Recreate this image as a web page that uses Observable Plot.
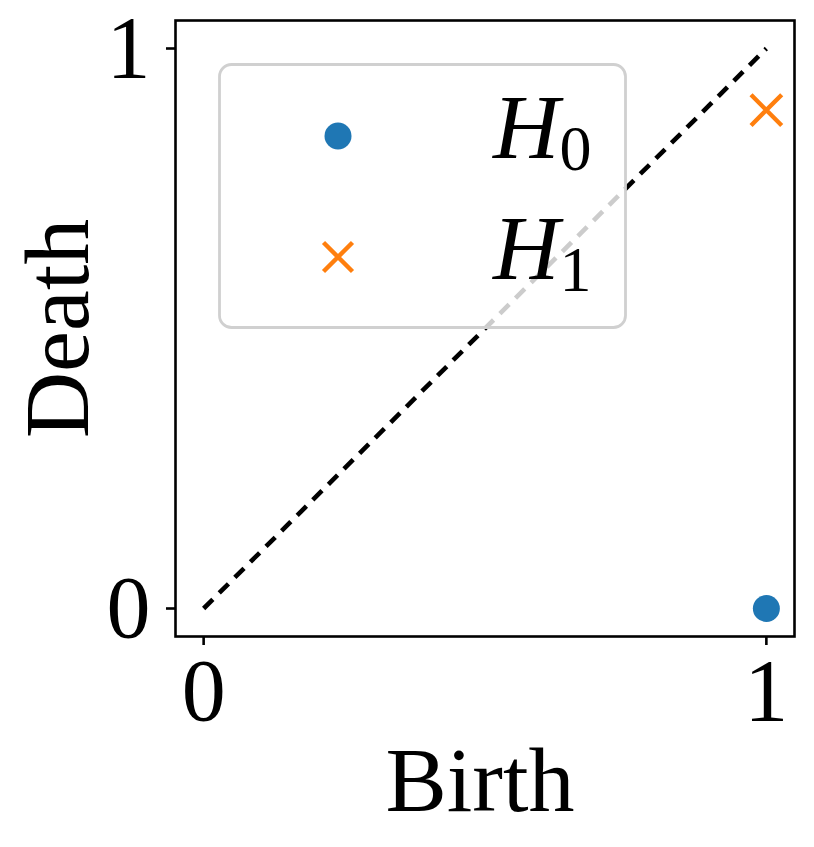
<!DOCTYPE html>
<html>
<head>
<meta charset="utf-8">
<script src="https://cdn.jsdelivr.net/npm/d3@7"></script>
<script src="https://cdn.jsdelivr.net/npm/@observablehq/plot@0.6"></script>
<style>
  html, body { margin: 0; padding: 0; background: white; }
  #chart { width: 814px; height: 847px; }
</style>
</head>
<body>
<div id="chart"></div>
<script>
// ---- data ----
const h0Birth = [1.0];
const h0Death = [0.0];
const h1Birth = [1.0];
const h1Death = [0.89];
const diagonal = [0, 1];
const xTicks = [0, 1];
const yTicks = [0, 1];
const seriesNames = ["H", "H"];
const seriesSubs = ["0", "1"];
const seriesColors = ["#1f77b4", "#ff7f0e"];
const xLabel = "Birth";
const yLabel = "Death";

const FONT = "Liberation Serif, Times New Roman, serif";
const FS = 88;

const h0 = h0Birth.map((b, i) => ({birth: b, death: h0Death[i]}));
const h1 = h1Birth.map((b, i) => ({birth: b, death: h1Death[i]}));
const diag = diagonal.map(v => ({birth: v, death: v}));

const chart = Plot.plot({
  width: 814,
  height: 847,
  marginLeft: 175,
  marginRight: 20,
  marginTop: 20,
  marginBottom: 211,
  style: {fontFamily: FONT, background: "white", color: "black"},
  x: {domain: [-0.05, 1.05]},
  y: {domain: [-0.05, 1.05]},
  marks: [
    Plot.line(diag, {x: "birth", y: "death", stroke: "black", strokeWidth: 4.6, strokeLinecap: "butt", strokeDasharray: "13,9"}),
    Plot.dot(h0, {x: "birth", y: "death", r: 13.5, fill: seriesColors[0], symbol: "circle"}),
    Plot.dot(h1, {x: "birth", y: "death", r: 14, stroke: seriesColors[1], strokeWidth: 4.4, strokeLinecap: "butt", symbol: "times"}),
    Plot.frame({stroke: "black", strokeWidth: 2.6}),
    Plot.axisX({ticks: xTicks, tickSize: 9, tickPadding: 12, strokeWidth: 2.6, fontSize: FS, fontFamily: FONT, label: null, tickFormat: d => String(d)}),
    Plot.axisY({ticks: yTicks, tickSize: 9, tickPadding: 16, strokeWidth: 2.6, fontSize: FS, fontFamily: FONT, label: null, tickFormat: d => String(d)}),
    Plot.text([xLabel], {frameAnchor: "bottom", dx: -5, dy: 174, lineAnchor: "bottom", textAnchor: "middle", text: d => d, fontSize: FS + 4, fontFamily: FONT, fill: "black"}),
    Plot.text([yLabel], {frameAnchor: "left", dx: -88, rotate: -90, lineAnchor: "bottom", textAnchor: "middle", text: d => d, fontSize: FS + 4, fontFamily: FONT, fill: "black"})
  ]
});

document.getElementById("chart").appendChild(chart);

// ---- legend (drawn on top, semi-transparent like matplotlib) ----
const svg = d3.select(chart);
const lg = svg.append("g").attr("class", "legend").attr("text-anchor", "start");
lg.append("rect")
  .attr("x", 219.5).attr("y", 64.5).attr("width", 406).attr("height", 263)
  .attr("rx", 12).attr("ry", 12)
  .attr("fill", "white").attr("fill-opacity", 0.8)
  .attr("stroke", "#d0d0d0").attr("stroke-width", 2.8);

const rows = [136, 257];
// circle marker
lg.append("circle").attr("cx", 338).attr("cy", rows[0]).attr("r", 13.5).attr("fill", seriesColors[0]);
// times marker
const s = 14.5;
lg.append("path")
  .attr("d", `M${338 - s},${rows[1] - s}L${338 + s},${rows[1] + s}M${338 - s},${rows[1] + s}L${338 + s},${rows[1] - s}`)
  .attr("stroke", seriesColors[1]).attr("stroke-width", 4.4).attr("fill", "none");

rows.forEach((y, i) => {
  const t = lg.append("text")
    .attr("x", 493).attr("y", y + 22)
    .attr("text-anchor", "start")
    .attr("font-family", FONT).attr("font-size", 92).attr("fill", "black");
  t.append("tspan").attr("font-style", "italic").text(seriesNames[i]);
  t.append("tspan").attr("font-size", 64).attr("dy", 12).text(seriesSubs[i]);
});
</script>
</body>
</html>
